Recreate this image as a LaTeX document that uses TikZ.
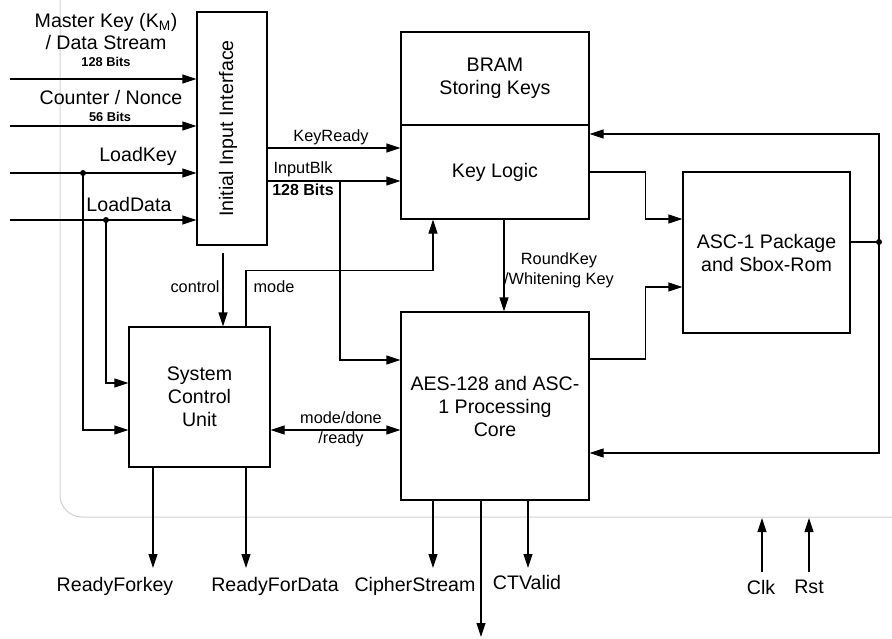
\documentclass[tikz,border=0pt]{standalone}
\usepackage{fontspec}
\setmainfont{Liberation Sans}
\usetikzlibrary{arrows.meta, positioning}

\begin{document}
\begin{tikzpicture}[x=1pt, y=-1pt,
  blk/.style={draw, line width=1.1pt, inner sep=0pt, align=center,
              font=\fontsize{19.6}{23}\selectfont},
  arr/.style={-{Triangle[length=14pt, width=9pt]}, line width=1.1pt},
  dbl/.style={{Triangle[length=14pt, width=9pt]}-{Triangle[length=14pt, width=9pt]}, line width=1.1pt},
  wire/.style={line width=1.1pt},
  big/.style={font=\fontsize{19.6}{22}\selectfont, inner sep=0pt, align=center},
  sig/.style={font=\fontsize{16.3}{20}\selectfont, inner sep=0pt, align=center},
  bits/.style={font=\bfseries\fontsize{12.8}{15}\selectfont, inner sep=0pt}
]
  \useasboundingbox (0,0) rectangle (892,638);
  % chip outline
  \draw[black!18, line width=1pt, rounded corners=22pt] (60,0) -- (60,517) -- (892,517);

  % blocks
  \node[blk, minimum width=70pt, minimum height=233pt] (iif) at (232,128.5) {};
  \node[big, rotate=90] (iiftxt) at (228,128.5) {Initial Input Interface};
  \node[blk, minimum width=188pt, minimum height=93pt] (bram) at (495,78.5) {BRAM\\Storing Keys};
  \node[blk, minimum width=188pt, minimum height=94pt] (keylogic) at (495,172) {Key Logic};
  \node[blk, minimum width=141pt, minimum height=140pt] (scu) at (199.5,397) {System\\Control\\Unit};
  \node[blk, minimum width=188pt, minimum height=188pt] (aes) at (495,406) {AES-128 and ASC-\\1 Processing\\Core};
  \node[blk, minimum width=167pt, minimum height=161pt] (asc) at (766.5,252.5) {ASC-1 Package\\and Sbox-Rom};

  % inputs
  \coordinate (mk) at (10,79);
  \coordinate (cn) at (10,126);
  \coordinate (lk) at (10,173);
  \coordinate (ld) at (10,220);
  \draw[arr] (mk) -- (mk -| iif.west);
  \draw[arr] (cn) -- (cn -| iif.west);
  \draw[arr] (lk) -- (lk -| iif.west);
  \draw[arr] (ld) -- (ld -| iif.west);
  \node[big] (mklbl) at (106,31) {Master Key (K\textsubscript{M})\\/ Data Stream};
  \node[bits] (mkbits) at (106,62) {128 Bits};
  \node[big] (cnlbl) at (111,97) {Counter / Nonce};
  \node[bits] (cnbits) at (110,117) {56 Bits};
  \node[big] (lklbl) at (138,156) {LoadKey};
  \node[big] (ldlbl) at (129,204) {LoadData};

  \coordinate (lkdot) at (83,173);
  \coordinate (lddot) at (106,220);
  \fill (lkdot) circle (3pt);
  \fill (lddot) circle (3pt);
  \draw[arr] (lkdot) |- ([yshift=-33pt]scu.west);
  \draw[arr] (lddot) |- ([yshift=14pt]scu.west);

  % interface to key logic / core
  \coordinate (kr) at (267,148);
  \coordinate (ib) at (267,181);
  \coordinate (ibsplit) at (340,181);
  \draw[arr] (kr) -- (kr -| keylogic.west);
  \draw[arr] (ib) -- (ib -| keylogic.west);
  \draw[arr] (ibsplit) |- ([yshift=46pt]aes.west);
  \node[sig] (krlbl) at (331,137) {KeyReady};
  \node[sig] (iblbl) at (303,169) {InputBlk};
  \node[bits, font=\bfseries\fontsize{16}{18}\selectfont] (ibbits) at (303,190) {128 Bits};

  % control and mode
  \coordinate (ctl) at (223,253);
  \draw[arr] (ctl) -- (ctl |- scu.north);
  \draw[arr] ([xshift=46.5pt]scu.north) -- ++(0,-56) -| ([xshift=-62pt]keylogic.south);
  \node[sig] (ctllbl) at (195,287) {control};
  \node[sig] (modelbl) at (274,287) {mode};

  % round keys
  \draw[arr] ([xshift=9pt]keylogic.south) -- ([xshift=9pt]aes.north);
  \node[sig] (rklbl) at (559,270) {RoundKey\\/Whitening Key};

  % ASC-1 package
  \draw[arr] (keylogic.east) -- ++(56,0) |- ([yshift=33.5pt]asc.west);
  \draw[arr] ([yshift=47pt]aes.east) -- ++(56,0) |- ([yshift=-34.5pt]asc.west);
  \coordinate (fbdot) at (879,242);
  \draw[wire] ([yshift=10.5pt]asc.east) -- (fbdot);
  \fill (fbdot) circle (3pt);
  \draw[arr] (fbdot) |- ([yshift=38pt]keylogic.east);
  \draw[arr] (fbdot) |- ([yshift=-47pt]aes.east);

  % handshake
  \draw[dbl] ([yshift=-33pt]scu.east) -- ([yshift=-24pt]aes.west);
  \node[sig] (mdlbl) at (341,429) {mode/done\\/ready};

  % outputs
  \coordinate (rfk) at (153,568);
  \coordinate (rfd) at (246,568);
  \coordinate (cs) at (433,568);
  \coordinate (ct) at (481,637);
  \coordinate (cv) at (528,568);
  \draw[arr] (rfk |- scu.south) -- (rfk);
  \draw[arr] (rfd |- scu.south) -- (rfd);
  \draw[arr] (cs |- aes.south) -- (cs);
  \draw[arr] (ct |- aes.south) -- (ct);
  \draw[arr] (cv |- aes.south) -- (cv);
  \node[big] (rfklbl) at (115,586) {ReadyForkey};
  \node[big] (rfdlbl) at (275,586) {ReadyForData};
  \node[big] (cslbl) at (415,586) {CipherStream};
  \node[big] (cvlbl) at (527,582) {CTValid};

  % clock and reset
  \coordinate (clk) at (762,572);
  \coordinate (rst) at (809,572);
  \draw[arr] (clk) -- ++(0,-54);
  \draw[arr] (rst) -- ++(0,-54);
  \node[big] (clklbl) at (761,587) {Clk};
  \node[big] (rstlbl) at (809,587) {Rst};
\end{tikzpicture}
\end{document}
